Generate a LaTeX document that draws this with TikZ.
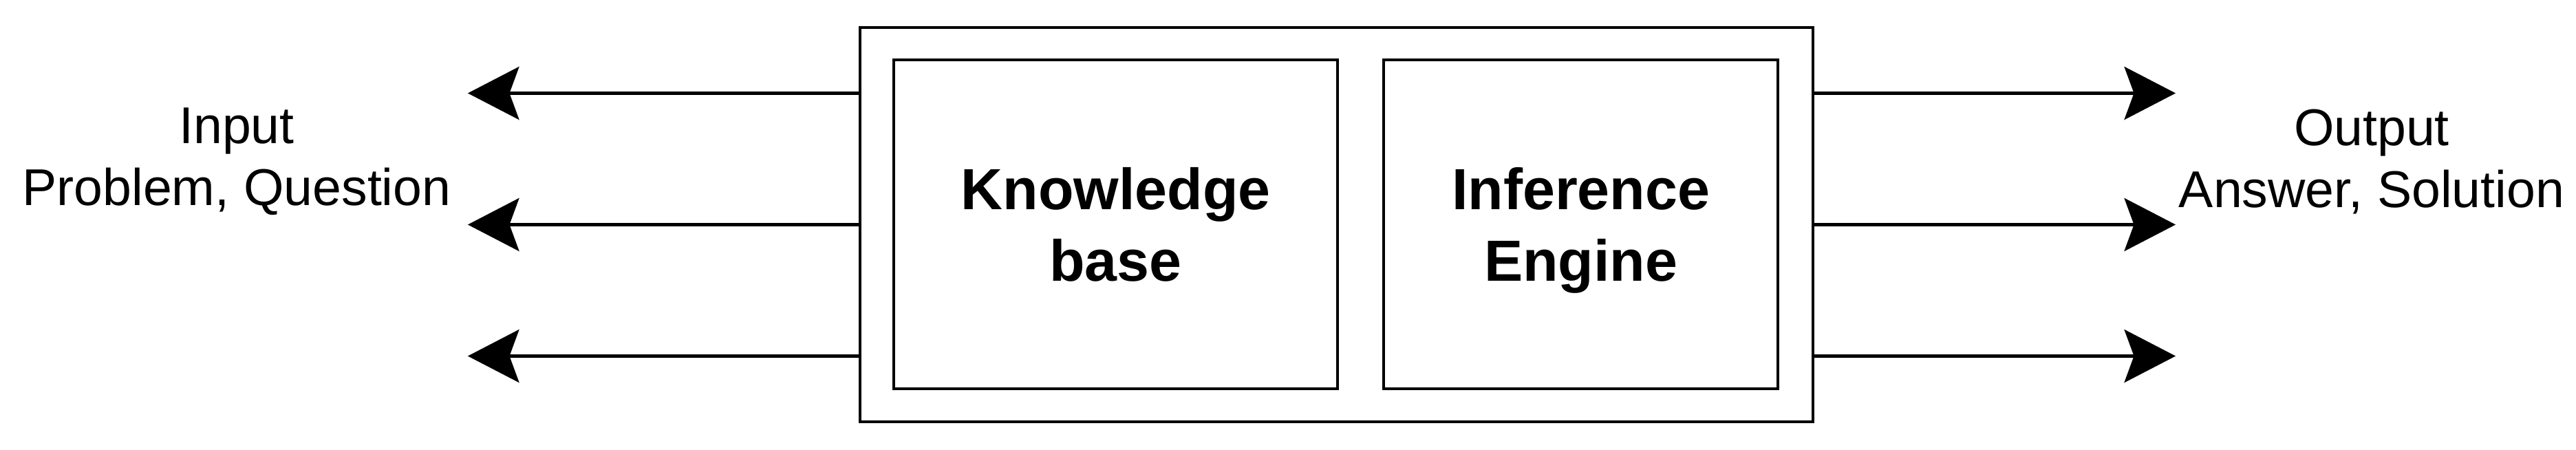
\documentclass[tikz,border=0pt]{standalone}
\usepackage{fontspec}
\setmainfont{Liberation Sans}
\usetikzlibrary{positioning,arrows.meta}

\begin{document}
\begin{tikzpicture}[
  block/.style = {
    draw,
    shape=rectangle,
    line width=0.6pt,
    minimum height=23.9mm,
    text depth=0pt,
    font=\bfseries\fontsize{12}{14.7}\selectfont,
    align=center
  },
  iotext/.style = {
    inner sep=0pt,
    font=\fontsize{10.7}{12.8}\selectfont,
    align=center
  },
  flow/.style = {
    -{Stealth[length=3.73mm, width=3.85mm, inset=0.7mm]},
    line width=0.6pt
  },
]
  \useasboundingbox (0,0) rectangle (18.72,3.27);

  \node (frame)[
    draw,
    line width=0.6pt,
    minimum width=69.25mm,
    minimum height=28.65mm
  ] at (9.7125,1.6375) {};
  \node (kb)[
    block,
    minimum width=32.25mm
  ] at (8.1075,1.64) {Knowledge\\base};
  \node (ie)[
    right=3.15mm of kb,
    block,
    minimum width=28.65mm
  ] {Inference\\Engine};

  \coordinate (in1) at ([xshift=-28.4mm, yshift=9.55mm]frame.west);
  \coordinate (in2) at ([xshift=-28.4mm]frame.west);
  \coordinate (in3) at ([xshift=-28.4mm, yshift=-9.55mm]frame.west);
  \coordinate (out1) at ([xshift=26.25mm, yshift=9.55mm]frame.east);
  \coordinate (out2) at ([xshift=26.25mm]frame.east);
  \coordinate (out3) at ([xshift=26.25mm, yshift=-9.55mm]frame.east);

  \node (input)[iotext] at (1.72,2.095) {Input\\Problem, Question};
  \node (output)[iotext] at (17.235,2.094) {Output\\Answer, Solution};

  \draw[flow] (frame.west |- in1) -- (in1);
  \draw[flow] (frame.west |- in2) -- (in2);
  \draw[flow] (frame.west |- in3) -- (in3);
  \draw[flow] (frame.east |- out1) -- (out1);
  \draw[flow] (frame.east |- out2) -- (out2);
  \draw[flow] (frame.east |- out3) -- (out3);
\end{tikzpicture}
\end{document}
